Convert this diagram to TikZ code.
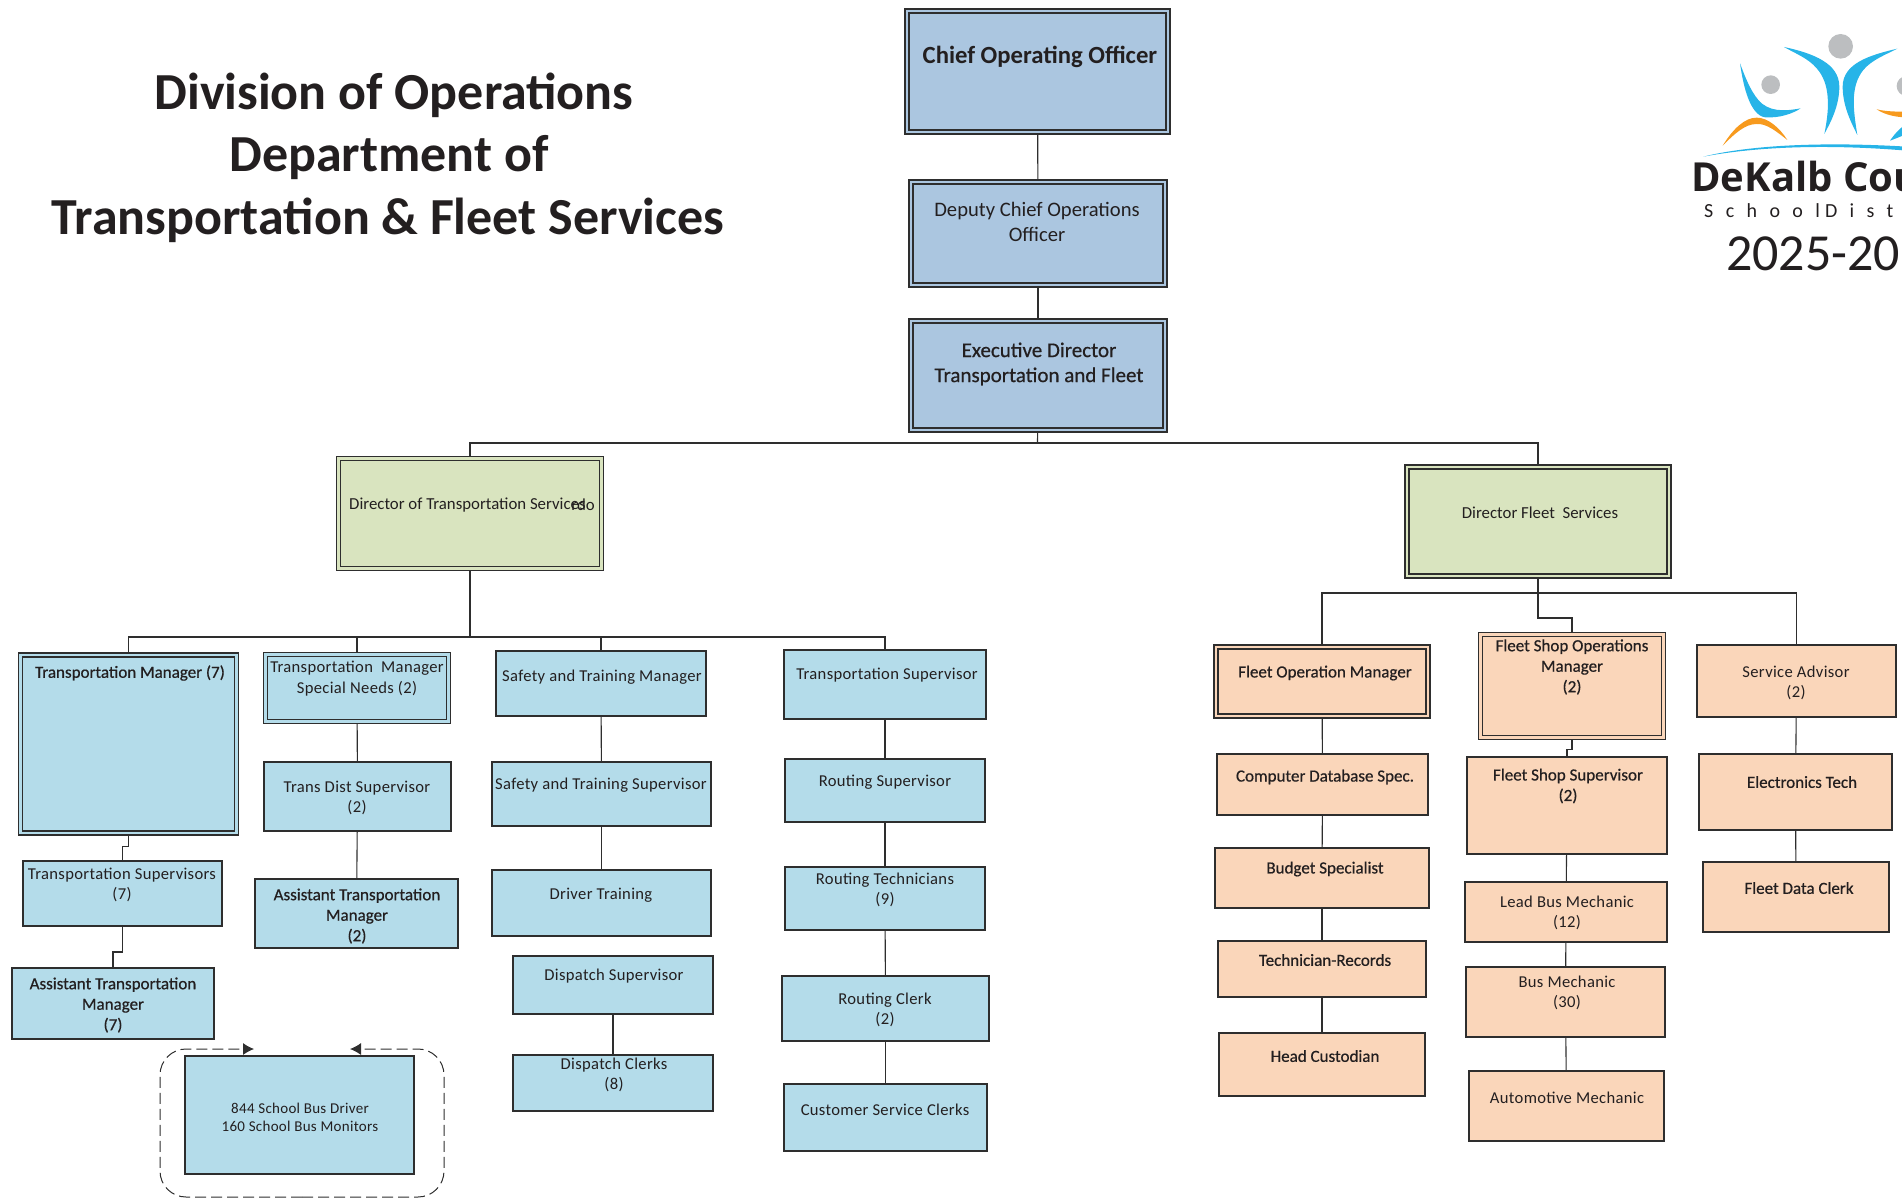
\documentclass[tikz,border=0pt]{standalone}
\usepackage{fontspec}
\setmainfont{Carlito}[LetterSpace=2]
\newfontfamily\heavyfont{Carlito}[FakeBold=0.6]
\newfontfamily\plainfont{Carlito}
\newfontfamily\spacedfont{Carlito}[LetterSpace=62]
\newfontfamily\logofont{Open Sans}
\usetikzlibrary{arrows.meta}
\definecolor{inkc}{HTML}{231F20}
\definecolor{linec}{HTML}{2E2E2E}
\definecolor{topc}{HTML}{ABC6E0}
\definecolor{greenc}{HTML}{D9E4BF}
\definecolor{bluec}{HTML}{B4DCEA}
\definecolor{peachc}{HTML}{FAD6BA}
\definecolor{logoblue}{HTML}{27B4E8}
\definecolor{logoorange}{HTML}{F79A1E}
\definecolor{logogrey}{HTML}{BCBEC0}
\tikzset{
  boxn/.style={rectangle, draw=linec, line width=1.1pt, inner sep=0pt, outer sep=0pt},
  dboxn/.style={rectangle, draw=linec, line width=1.3pt, double distance=2.6pt, inner sep=0pt, outer sep=2.6pt},
  txt/.style={inkc, align=center, inner sep=0pt, font=\fontsize{16.6}{20.5}\selectfont},
  txtb/.style={txt, font=\heavyfont\fontsize{17}{20.5}\selectfont},
  link/.style={draw=linec, line width=1.1pt},
}
\begin{document}
\begin{tikzpicture}[x=1pt,y=-1pt]
\useasboundingbox (0,0) rectangle (1902,1201);
% title
\node[inkc, font=\plainfont\bfseries\fontsize{52}{52}\selectfont] (title1) at (394,95) {Division of Operations};
\node[inkc, font=\plainfont\bfseries\fontsize{52}{52}\selectfont] (title2) at (389,158) {Department of};
\node[inkc, font=\plainfont\bfseries\fontsize{52}{52}\selectfont] (title3) at (388,220) {Transportation \& Fleet Services};
% logo
\begin{scope}
\clip (1640,0) rectangle (1902,300);
\begin{scope}[shift={(1640,0)},x=0.3333pt,y=-0.3333pt]
\fill[logogrey] (602,139) circle (37);
\fill[logogrey] (392,254) circle (28);
\fill[logogrey] (800,258) circle (30);
\fill[logoblue] (432,141) .. controls (520,160) and (598,190) .. (598,260) .. controls (598,320) and (570,370) .. (553,402) .. controls (570,320) and (570,250) .. (530,205) .. controls (505,175) and (465,160) .. (432,141) -- cycle;
\fill[logoblue] (772,146) .. controls (690,165) and (608,190) .. (608,260) .. controls (608,320) and (635,370) .. (652,405) .. controls (640,330) and (630,260) .. (670,210) .. controls (695,180) and (735,165) .. (772,146) -- cycle;
\fill[logoblue] (300,190) .. controls (310,260) and (330,345) .. (375,352) .. controls (420,355) and (460,340) .. (482,325) .. controls (430,335) and (385,335) .. (355,300) .. controls (330,270) and (315,230) .. (300,190) -- cycle;
\fill[logoorange] (248,437) .. controls (280,385) and (315,353) .. (350,353) .. controls (385,353) and (420,385) .. (442,420) .. controls (410,395) and (380,370) .. (350,372) .. controls (315,372) and (285,400) .. (248,437) -- cycle;
\fill[logoorange] (710,328) .. controls (740,335) and (770,335) .. (800,335) -- (800,352) .. controls (770,352) and (735,345) .. (710,328) -- cycle;
\fill[logoblue] (750,422) .. controls (765,400) and (780,385) .. (800,370) -- (800,402) .. controls (785,408) and (770,415) .. (750,422) -- cycle;
\fill[logoblue] (190,470) .. controls (330,435) and (550,425) .. (800,440) -- (800,452) .. controls (560,432) and (350,440) .. (190,470) -- cycle;
\end{scope}
\node[inkc, anchor=base west, inner sep=0pt, font=\logofont\bfseries\fontsize{40}{40}\selectfont] (logo1) at (1691,192) {DeKalb Cou};
\node[inkc, anchor=base west, inner sep=0pt, font=\spacedfont\fontsize{20}{20}\selectfont] (logo2) at (1704,217) {School\hspace{5pt}Dist};
\node[inkc, anchor=base west, inner sep=0pt, font=\plainfont\fontsize{52}{52}\selectfont] (logo3) at (1726,270) {2025-20};
\end{scope}
% top boxes
\node[dboxn, fill=topc, double=topc, minimum width=261, minimum height=121] (coo) at (1037.5,71.5) {};
\node[dboxn, fill=topc, double=topc, minimum width=254, minimum height=103] (dep) at (1038,233.5) {};
\node[dboxn, fill=topc, double=topc, minimum width=254, minimum height=109] (exd) at (1038,375.5) {};
\node[dboxn, fill=greenc, double=greenc, minimum width=263, minimum height=110] (dts) at (470,513.5) {};
\node[dboxn, fill=greenc, double=greenc, minimum width=262, minimum height=109] (dfs) at (1538,521.5) {};
\coordinate (tbus0) at (1037.5,443);
\coordinate (tbus1) at (470,637);
\coordinate (tbus2) at (1538,593);
\draw[link] (coo) -- (dep);
\draw[link] (dep) -- (exd);
\draw[link] (exd) -- (tbus0);
\draw[link] (tbus0) -| (dts.north);
\draw[link] (tbus0) -| (dfs.north);
\draw[link] (dts) -- (tbus1);
\draw[link] (dfs) -- (tbus2);
\node[inkc, inner sep=0pt, font=\plainfont\bfseries\fontsize{24.7}{26}\selectfont] (tcoo) at (1040,57) {Chief Operating Officer};
\node[txt, font=\plainfont\fontsize{20.6}{25}\selectfont] (tdep) at (1037,222) {Deputy Chief Operations\\Officer};
\node[txt, font=\heavyfont\fontsize{21}{25}\selectfont] (texd) at (1039,364) {Executive Director\\Transportation and Fleet};
\node[txt, font=\plainfont\fontsize{16.8}{20}\selectfont, anchor=west] (tdts) at (349,505) {Director of Transportation Services};
\node[txt, font=\plainfont\fontsize{16.8}{20}\selectfont, anchor=east] (tdts2) at (595,505) {rdo};
\node[txt, font=\plainfont\fontsize{16.8}{20}\selectfont] (tdfs) at (1540,513) {Director Fleet\ \ Services};
% transportation branch
\node[dboxn, fill=bluec, double=bluec, minimum width=216, minimum height=178] (tmg) at (128.5,744) {};
\node[dboxn, fill=bluec, double=bluec, minimum width=183, minimum height=67] (tsn) at (357,688) {};
\node[boxn, fill=bluec, minimum width=199, minimum height=65] (tsv) at (122.5,893.5) {};
\node[boxn, fill=bluec, minimum width=202, minimum height=71] (atm) at (113,1003.5) {};
\node[boxn, fill=bluec, minimum width=187, minimum height=69] (tds) at (357.5,796.5) {};
\node[boxn, fill=bluec, minimum width=203, minimum height=69] (atn) at (356.5,913.5) {};
\node[boxn, fill=bluec, minimum width=210, minimum height=65] (stm) at (601,683.5) {};
\node[boxn, fill=bluec, minimum width=219, minimum height=64] (sts) at (601.5,794) {};
\node[boxn, fill=bluec, minimum width=219, minimum height=66] (drt) at (601.5,903) {};
\node[boxn, fill=bluec, minimum width=200, minimum height=58] (dsp) at (613,985) {};
\node[boxn, fill=bluec, minimum width=200, minimum height=56] (dcl) at (613,1083) {};
\node[boxn, fill=bluec, minimum width=202, minimum height=69] (trs) at (885,684.5) {};
\node[boxn, fill=bluec, minimum width=200, minimum height=63] (rsv) at (885,790.5) {};
\node[boxn, fill=bluec, minimum width=200, minimum height=63] (rte) at (885,898.5) {};
\node[boxn, fill=bluec, minimum width=207, minimum height=65] (rcl) at (885.5,1008.5) {};
\node[boxn, fill=bluec, minimum width=203, minimum height=67] (csc) at (885.5,1117.5) {};
\node[boxn, fill=bluec, minimum width=229, minimum height=118] (bus) at (299.5,1115) {};
\coordinate (loopb0) at (302,1197);
\coordinate (loopl0) at (254,1049);
\coordinate (loopr0) at (350,1049);
\draw[link] (tbus1) -| (tmg.north);
\draw[link] (tbus1) -| (tsn.north);
\draw[link] (tbus1) -| (stm.north);
\draw[link] (tbus1) -| (trs.north);
\draw[link] (tmg.south) -- ++(0,11) -| (tsv.north);
\draw[link] (tsv.south) -- ++(0,26) -| (atm.north);
\draw[link] (tsn) -- (tds);
\draw[link] (tds) -- (atn);
\draw[link] (stm) -- (sts);
\draw[link] (sts) -- (drt);
\draw[link] (dsp) -- (dcl);
\draw[link] (trs) -- (rsv);
\draw[link] (rsv) -- (rte);
\draw[link] (rte) -- (rcl);
\draw[link] (rcl) -- (csc);
\draw[draw=linec, line width=1pt, dash pattern=on 11pt off 5pt, rounded corners=26pt, -{Latex[length=11pt,width=12pt]}] (loopb0) -- (160,1197) -- (160,1049) -- (loopl0);
\draw[draw=linec, line width=1pt, dash pattern=on 11pt off 5pt, rounded corners=26pt, -{Latex[length=11pt,width=12pt]}] (loopb0) -- (444,1197) -- (444,1049) -- (loopr0);
\node[txtb] (ttmg) at (130,673) {Transportation Manager (7)};
\node[txt] (ttsn) at (357,678.5) {Transportation\ \ Manager\\Special Needs (2)};
\node[txt] (ttsv) at (122,885) {Transportation Supervisors\\(7)};
\node[txtb] (tatm) at (113,1005) {Assistant Transportation\\Manager\\(7)};
\node[txt] (ttds) at (357,798) {Trans Dist Supervisor\\(2)};
\node[txtb] (tatn) at (357,916) {Assistant Transportation\\Manager\\(2)};
\node[txt] (tstm) at (602,677) {Safety and Training Manager};
\node[txt] (tsts) at (601,785) {Safety and Training Supervisor};
\node[txt] (tdrt) at (601,895) {Driver Training};
\node[txt] (tdsp) at (614,976) {Dispatch Supervisor};
\node[txt] (tdcl) at (614,1075) {Dispatch Clerks\\(8)};
\node[txt] (ttrs) at (887,675) {Transportation Supervisor};
\node[txt] (trsv) at (885,782) {Routing Supervisor};
\node[txt] (trte) at (885,890) {Routing Technicians\\(9)};
\node[txt] (trcl) at (885,1010) {Routing Clerk\\(2)};
\node[txt] (tcsc) at (885,1110) {Customer Service Clerks};
\node[txt, font=\fontsize{15}{18}\selectfont] (tbus) at (300,1117) {844 School Bus Driver\\160 School Bus Monitors};
% fleet branch
\node[dboxn, fill=peachc, double=peachc, minimum width=212, minimum height=69] (fom) at (1322,681.5) {};
\node[dboxn, fill=peachc, double=peachc, minimum width=183, minimum height=103] (fso) at (1572,686) {};
\node[boxn, fill=peachc, minimum width=199, minimum height=72] (sad) at (1796.5,681) {};
\node[boxn, fill=peachc, minimum width=211, minimum height=61] (cdb) at (1322.5,784.5) {};
\node[boxn, fill=peachc, minimum width=214, minimum height=60] (bsp) at (1322,878) {};
\node[boxn, fill=peachc, minimum width=208, minimum height=56] (tcr) at (1322,969) {};
\node[boxn, fill=peachc, minimum width=206, minimum height=63] (hcu) at (1322,1064.5) {};
\node[boxn, fill=peachc, minimum width=200, minimum height=97] (fss) at (1567,805.5) {};
\node[boxn, fill=peachc, minimum width=202, minimum height=60] (lbm) at (1566,912) {};
\node[boxn, fill=peachc, minimum width=199, minimum height=70] (bme) at (1565.5,1002) {};
\node[boxn, fill=peachc, minimum width=195, minimum height=70] (aut) at (1566.5,1106) {};
\node[boxn, fill=peachc, minimum width=193, minimum height=76] (elt) at (1795.5,792) {};
\node[boxn, fill=peachc, minimum width=186, minimum height=70] (fdc) at (1796,897) {};
\draw[link] (tbus2) -| (fom.north);
\draw[link] (tbus2) -| (sad.north);
\draw[link] (tbus2) -- ++(0,25) -| (fso.north);
\draw[link] (fom) -- (cdb);
\draw[link] (cdb) -- (bsp);
\draw[link] (bsp) -- (tcr);
\draw[link] (tcr) -- (hcu);
\draw[link] (fso.south) -- ++(0,9) -| (fss.north);
\draw[link] (fss) -- (lbm);
\draw[link] (lbm) -- (bme);
\draw[link] (bme) -- (aut);
\draw[link] (sad) -- (elt);
\draw[link] (elt) -- (fdc);
\node[txtb] (tfom) at (1325,673) {Fleet Operation Manager};
\node[txtb] (tfso) at (1572,667) {Fleet Shop Operations\\Manager\\(2)};
\node[txt] (tsad) at (1796,683) {Service Advisor\\(2)};
\node[txtb] (tcdb) at (1325,777) {Computer Database Spec.};
\node[txtb] (tbsp) at (1325,869) {Budget Specialist};
\node[txtb] (ttcr) at (1325,960) {Technician-Records};
\node[txtb] (thcu) at (1325,1056) {Head Custodian};
\node[txtb] (tfss) at (1568,786) {Fleet Shop Supervisor\\(2)};
\node[txt] (tlbm) at (1567,913) {Lead Bus Mechanic\\(12)};
\node[txt] (tbme) at (1567,993) {Bus Mechanic\\(30)};
\node[txt] (taut) at (1567,1098) {Automotive Mechanic};
\node[txtb] (telt) at (1802,782) {Electronics Tech};
\node[txtb] (tfdc) at (1799,888) {Fleet Data Clerk};
\end{tikzpicture}
\end{document}
